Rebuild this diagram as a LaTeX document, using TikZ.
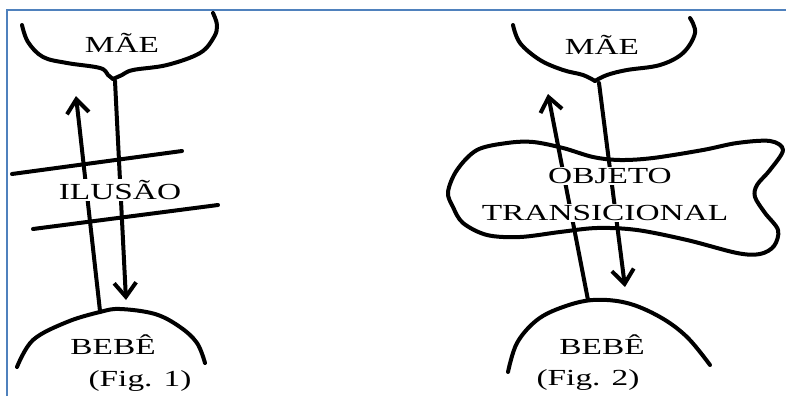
\documentclass[tikz,border=0pt]{standalone}
\usepackage{fontspec}
\setmainfont{Liberation Serif}
\usepackage{graphicx}
\usetikzlibrary{arrows.meta}
\definecolor{frameblue}{RGB}{79,129,189}
\newcommand{\wide}[1]{\scalebox{1.45}[1]{#1}}

\begin{document}
\begin{tikzpicture}[x=1pt, y=-1pt,
    ink/.style={line width=4pt, line cap=round, line join=round},
    arrowed/.style={ink, -{Straight Barb[length=14pt, width=22pt]}},
    word/.style={inner sep=1.5pt, fill=white, font=\fontsize{23}{25}\selectfont}]
  \useasboundingbox (0,0) rectangle (786,396);
  \draw [frameblue, line width=1.8pt] (7,396) -- (7,10) -- (786,10);

  % Fig. 1
  \coordinate (dip1) at (113,79);
  \coordinate (top1) at (115,81);
  \coordinate (down1) at (126,300);
  \coordinate (base1) at (100,311);
  \coordinate (up1) at (76,96);
  \draw [ink] plot [smooth, tension=0.6] coordinates {(213,13) (217,25) (214,37) (200,53) (167,65) (133,70) (122,75) (dip1)};
  \draw [ink] plot [smooth, tension=0.6] coordinates {(dip1) (108,75) (100,68) (67,63) (43,57) (28,42) (22,25)};
  \draw [ink] plot [smooth, tension=0.6] coordinates {(17,367) (33,340) (67,322) (100,312) (120,309) (155,314) (180,327) (197,343) (205,363)};
  \draw [arrowed] (top1) -- (down1);
  \draw [arrowed] (base1) -- (up1);
  \draw [ink] (12,174) -- (182,151);
  \draw [ink] (33,229) -- (218,205);
  \node [word] (mae1) at (122,43) {\wide{MÃE}};
  \node [word] (ilusao) at (120,190) {\wide{ILUSÃO}};
  \node [word] (bebe1) at (113,345) {\wide{BEBÊ}};
  \node [word] (fig1) at (140,381) {\wide{(Fig. 1)}};

  % Fig. 2
  \coordinate (dip2) at (595,81);
  \coordinate (top2) at (599,83);
  \coordinate (down2) at (625,287);
  \coordinate (base2) at (588,300);
  \coordinate (up2) at (548,94);
  \draw [ink] plot [smooth, tension=0.6] coordinates {(690,18) (695,33) (683,53) (660,65) (627,70) (607,75) (dip2)};
  \draw [ink] plot [smooth, tension=0.6] coordinates {(dip2) (583,75) (563,70) (540,60) (520,43) (513,25)};
  \draw [ink] plot [smooth cycle, tension=0.55] coordinates {(770,141) (783,150) (770,170) (757,185) (755,197) (765,213) (778,230) (774,246) (760,254) (737,253) (687,240) (637,230) (597,228) (560,232) (520,237) (487,235) (463,223) (453,207) (448,192) (457,170) (477,150) (507,143) (533,142) (563,148) (593,157) (620,160) (653,158) (703,150) (737,143)};
  \draw [ink] plot [smooth, tension=0.6] coordinates {(508,372) (517,343) (537,320) (563,307) (593,300) (627,303) (660,317) (687,337) (710,365)};
  \draw [arrowed] (top2) -- (down2);
  \draw [arrowed] (base2) -- (up2);
  \node [word] (mae2) at (602,45) {\wide{MÃE}};
  \node [word] (objeto) at (610,176) {\wide{OBJETO}};
  \node [word] (transicional) at (605,213) {\wide{TRANSICIONAL}};
  \node [word] (bebe2) at (602,345) {\wide{BEBÊ}};
  \node [word] (fig2) at (588,380) {\wide{(Fig. 2)}};
\end{tikzpicture}
\end{document}
